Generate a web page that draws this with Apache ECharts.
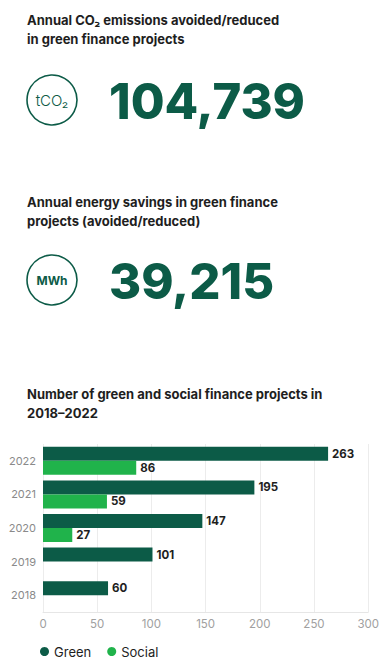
<!DOCTYPE html>
<html><head><meta charset="utf-8">
<script src="https://cdn.jsdelivr.net/npm/echarts@6/dist/echarts.min.js"></script>
<style>html,body{margin:0;padding:0;background:#fff}#c{width:382px;height:659px}</style>
</head><body><div id="c"></div>
<script>
const years = ['2022','2021','2020','2019','2018'];
const greenProjects = [263,195,147,101,60];
const socialProjects = [86,59,27,null,null];
const xTicks = [0,50,100,150,200,250,300];
const co2Title = ['Annual CO\u2082 emissions avoided/reduced','in green finance projects'];
const co2Unit = 'tCO\u2082';
const co2Value = '104,739';
const energyTitle = ['Annual energy savings in green finance','projects (avoided/reduced)'];
const energyUnit = 'MWh';
const energyValue = '39,215';
const chartTitle = 'Number of green and social finance projects in\n2018\u20132022';

const DARK = '#0c5b47', LIGHT = '#20b34b', TEXT = '#1e1e1e';
const FONT = 'Inter';

const chart = echarts.init(document.getElementById('c'), null, {renderer:'svg'});
function headline(y, lines){
  return {type:'text', left:27, top:y, style:{text:lines.join('\n'), font:'bold 13px '+FONT, fill:TEXT, lineHeight:18.5}};
}
chart.setOption({
  animation:false,
  textStyle:{fontFamily:FONT},
  graphic:[
    headline(11, co2Title),
    {type:'circle', shape:{cx:52, cy:100, r:25}, style:{fill:'none', stroke:DARK, lineWidth:1.6}},
    {type:'text', x:52, y:100, style:{text:co2Unit, font:'300 15px '+FONT, fill:DARK, align:'center', verticalAlign:'middle'}},
    {type:'text', x:109, y:101, style:{text:co2Value, font:'800 49px '+FONT, fill:DARK, verticalAlign:'middle'}},
    headline(193, energyTitle),
    {type:'circle', shape:{cx:52, cy:280, r:25}, style:{fill:'none', stroke:DARK, lineWidth:1.6}},
    {type:'text', x:52, y:280, style:{text:energyUnit, font:'bold 12px '+FONT, fill:DARK, align:'center', verticalAlign:'middle'}},
    {type:'text', x:109, y:281, style:{text:energyValue, font:'800 49px '+FONT, fill:DARK, verticalAlign:'middle'}}
  ],
  title:{text:chartTitle, left:27, top:385, padding:0, textStyle:{fontFamily:FONT, fontSize:13, fontWeight:'bold', color:TEXT, lineHeight:18.5}},
  legend:{left:40, top:645, padding:0, itemWidth:9, itemHeight:9, itemGap:16, icon:'circle',
    textStyle:{fontFamily:FONT, fontSize:13, color:TEXT}, data:['Green','Social']},
  grid:{left:43, right:11, top:444, bottom:47},
  xAxis:{type:'value', min:0, max:300, interval:50,
    axisLine:{show:true, lineStyle:{color:'#e6e6e6'}}, axisTick:{show:false},
    splitLine:{lineStyle:{color:'#ececec'}},
    axisLabel:{color:'#a0a0a0', fontSize:11.5, margin:6, fontFamily:FONT,
      formatter:v=>xTicks.includes(v)?String(v):''}},
  yAxis:{type:'category', data:years, inverse:true,
    axisLine:{show:false}, axisTick:{show:false},
    axisLabel:{color:'#8a8a8a', fontSize:11, margin:7, fontFamily:FONT}},
  series:[
    {name:'Green', type:'bar', data:greenProjects, barWidth:14, barGap:'0%',
      itemStyle:{color:DARK},
      label:{show:true, position:'right', distance:4, color:TEXT, fontWeight:'bold', fontSize:11.5, fontFamily:FONT}},
    {name:'Social', type:'bar', data:socialProjects, barWidth:14, barGap:'0%',
      itemStyle:{color:LIGHT},
      label:{show:true, position:'right', distance:4, color:TEXT, fontWeight:'bold', fontSize:11.5, fontFamily:FONT}}
  ]
});
</script></body></html>
